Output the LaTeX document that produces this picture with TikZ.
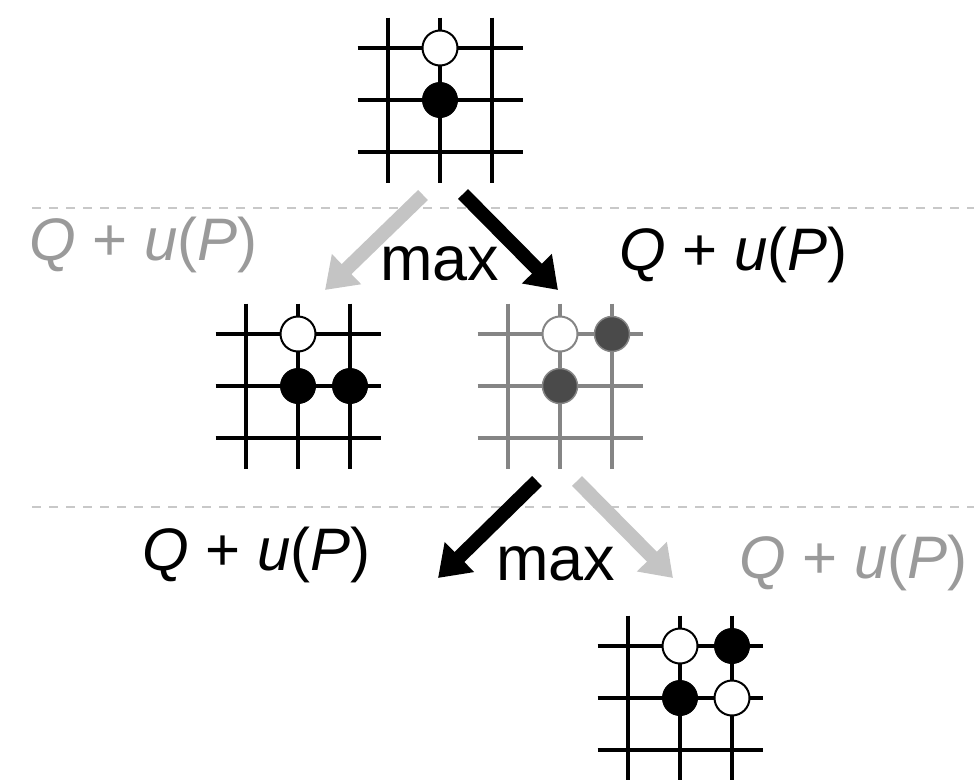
\documentclass[tikz,border=0pt]{standalone}
\usepackage{fontspec}
\setmainfont{Liberation Sans}
\usetikzlibrary{arrows.meta}
\definecolor{lightarrow}{HTML}{C4C4C4}
\definecolor{graytext}{HTML}{9A9A9A}
\definecolor{dashgray}{HTML}{C8C8C8}
\definecolor{gridgray}{HTML}{858585}
\definecolor{darkstone}{HTML}{4A4A4A}
\tikzset{
  gridline/.style={line width=3.4pt},
  whitestone/.style={fill=white, draw=black, line width=2pt},
  blackstone/.style={fill=black, draw=black, line width=1pt},
  graywhite/.style={fill=white, draw=gridgray, line width=2pt},
  graydark/.style={fill=darkstone, draw=gridgray, line width=1.5pt},
  stone/.style={circle, minimum size=35pt, inner sep=0pt},
  separator/.style={dashgray, line width=1.6pt, dash pattern=on 9pt off 8pt},
  bigarrow/.style={line width=14pt, -{Triangle[width=40pt,length=30pt]}},
  lbl/.style={anchor=base west, inner sep=0pt, font=\fontsize{60}{72}\selectfont},
  maxlbl/.style={anchor=base west, inner sep=0pt, font=\fontsize{63}{72}\selectfont},
  pics/goboard/.style={code={
    \foreach \k in {-52,0,52} {
      \draw[gridline,#1] (-82.5,\k) -- (82.5,\k);
      \draw[gridline,#1] (\k,-82.5) -- (\k,82.5);
    }
  }}
}
\newcommand{\qup}{\textit{Q} + \textit{u}(\textit{P})}
\begin{document}
\begin{tikzpicture}[x=1pt,y=-1pt]
\useasboundingbox (0,0) rectangle (974,779);
% separators
\draw[separator] (32,208) -- (974,208);
\draw[separator] (32,507) -- (974,507);
% boards
\pic at (440,100) {goboard=black};
\node[whitestone, stone] (t1) at (440,48) {};
\node[blackstone, stone] (t2) at (440,100) {};

\pic at (298,386) {goboard=black};
\node[whitestone, stone] (l1) at (298,334) {};
\node[blackstone, stone] (l2) at (298,386) {};
\node[blackstone, stone] (l3) at (350,386) {};

\pic at (560,386) {goboard=gridgray};
\node[graywhite, stone] (r1) at (560,334) {};
\node[graydark, stone] (r2) at (612,334) {};
\node[graydark, stone] (r3) at (560,386) {};

\pic at (680,698) {goboard=black};
\node[whitestone, stone] (b1) at (680,646) {};
\node[blackstone, stone] (b2) at (732,646) {};
\node[blackstone, stone] (b3) at (680,698) {};
\node[whitestone, stone] (b4) at (732,698) {};
% arrow anchors
\coordinate (a1s) at (423,195); \coordinate (a1e) at (325,290);
\coordinate (a2s) at (463,194); \coordinate (a2e) at (558,290);
\coordinate (a3s) at (537,481); \coordinate (a3e) at (438,578);
\coordinate (a4s) at (577,481); \coordinate (a4e) at (673,578);
\draw[bigarrow, lightarrow] (a1s) -- (a1e);
\draw[bigarrow, black] (a2s) -- (a2e);
\draw[bigarrow, black] (a3s) -- (a3e);
\draw[bigarrow, lightarrow] (a4s) -- (a4e);
% labels
\node[lbl, text=graytext] (q1) at (29,260) {\qup};
\node[lbl] (q2) at (619,270) {\qup};
\node[lbl] (q3) at (142,570) {\qup};
\node[lbl, text=graytext] (q4) at (739,578) {\qup};
\node[maxlbl] (m1) at (380,280) {max};
\node[maxlbl] (m2) at (496,580) {max};
\end{tikzpicture}
\end{document}
